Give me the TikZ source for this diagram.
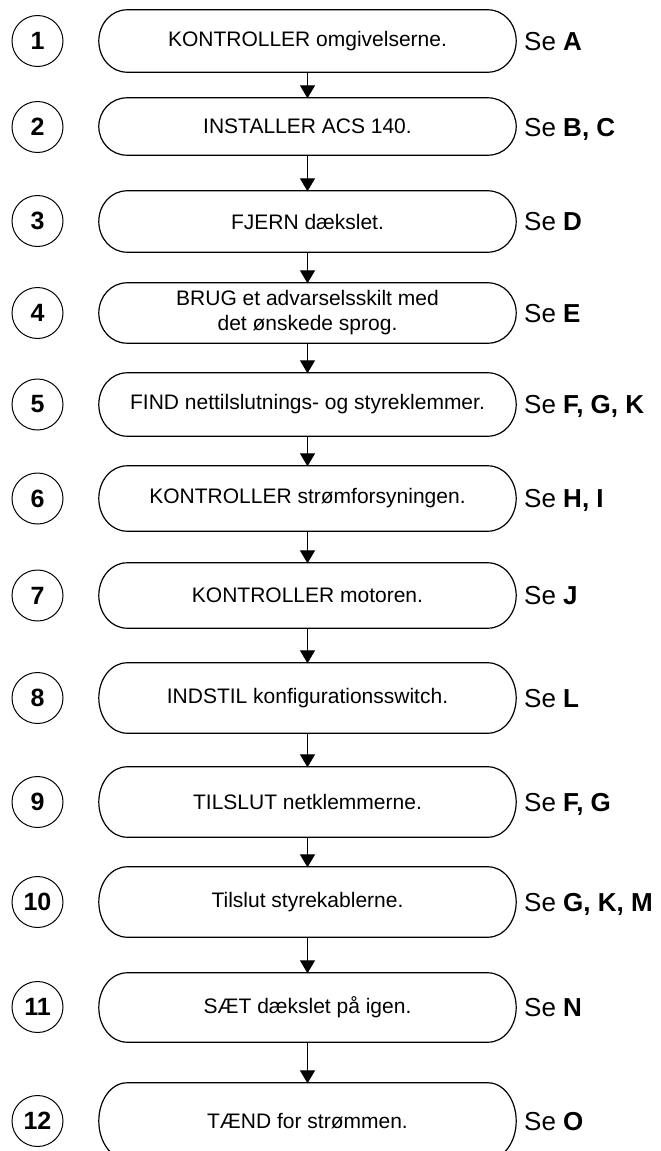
\documentclass[tikz,border=0pt]{standalone}
\usepackage{fontspec}
\setmainfont{Liberation Sans}
\usetikzlibrary{arrows.meta,calc}
\tikzset{
  boxline/.style={line width=1.2pt, line join=round},
  stepbox/.style={shape=rectangle, inner sep=0pt, minimum width=417pt, align=center,
    font=\fontsize{21}{25}\selectfont},
  num/.style={circle, draw, line width=1pt, minimum size=51pt, inner sep=0pt,
    font=\fontsize{25}{30}\selectfont\bfseries},
  seelabel/.style={anchor=base west, inner sep=0pt, font=\fontsize{26}{30}\selectfont},
  arr/.style={line width=1.3pt, -{Triangle[width=15pt,length=13pt]}, shorten >=-0.5pt}
}
\newcommand\pill[1]{%
 \draw[boxline] ([xshift=28pt]#1.north west) -- ([xshift=-28pt]#1.north east)
 .. controls ([xshift=-12.5pt]#1.north east) and ($(#1.east)!0.552!(#1.north east)$) .. (#1.east)
 .. controls ($(#1.east)!0.552!(#1.south east)$) and ([xshift=-12.5pt]#1.south east) .. ([xshift=-28pt]#1.south east)
 -- ([xshift=28pt]#1.south west)
 .. controls ([xshift=12.5pt]#1.south west) and ($(#1.west)!0.552!(#1.south west)$) .. (#1.west)
 .. controls ($(#1.west)!0.552!(#1.north west)$) and ([xshift=12.5pt]#1.north west) .. cycle;}
\begin{document}
\begin{tikzpicture}[x=1pt,y=-1pt]
\useasboundingbox (0,0) rectangle (661,1151);
\clip (0,0) rectangle (661,1151);
% boxes
\node[stepbox, minimum height=62pt] (b1) at (307.5,41) {KONTROLLER omgivelserne.};
\node[stepbox, minimum height=57pt] (b2) at (307.5,126.5) {INSTALLER ACS 140.};
\node[stepbox, minimum height=61pt] (b3) at (307.5,221.5) {FJERN dækslet.};
\node[stepbox, minimum height=60pt] (b4) at (307.5,313) {BRUG et advarselsskilt med\\det ønskede sprog.};
\node[stepbox, minimum height=63pt] (b5) at (307.5,404.5) {FIND nettilslutnings- og styreklemmer.};
\node[stepbox, minimum height=65pt] (b6) at (307.5,498.5) {KONTROLLER strømforsyningen.};
\node[stepbox, minimum height=65pt] (b7) at (307.5,595.5) {KONTROLLER motoren.};
\node[stepbox, minimum height=70pt] (b8) at (307.5,698) {INDSTIL konfigurationsswitch.};
\node[stepbox, minimum height=70pt] (b9) at (307.5,802) {TILSLUT netklemmerne.};
\node[stepbox, minimum height=70pt] (b10) at (307.5,902) {Tilslut styrekablerne.};
\node[stepbox, minimum height=69pt] (b11) at (307.5,1007.5) {SÆT dækslet på igen.};
\node[stepbox, minimum height=76pt] (b12) at (307.5,1121) {TÆND for strømmen.};
\foreach \i in {1,...,12} {\pill{b\i}}
% numbers
\node[num] (n1) at (37.5,41) {1};
\node[num] (n2) at (37.5,127) {2};
\node[num] (n3) at (37.5,221) {3};
\node[num] (n4) at (37.5,313) {4};
\node[num] (n5) at (37.5,404.5) {5};
\node[num] (n6) at (37.5,498.5) {6};
\node[num] (n7) at (37.5,595.5) {7};
\node[num] (n8) at (37.5,698) {8};
\node[num] (n9) at (37.5,802) {9};
\node[num] (n10) at (37.5,902) {10};
\node[num] (n11) at (37.5,1007) {11};
\node[num] (n12) at (37.5,1121) {12};
% labels
\node[seelabel] (s1) at (524,50) {Se \textbf{A}};
\node[seelabel] (s2) at (524,136) {Se \textbf{B, C}};
\node[seelabel] (s3) at (524,230.5) {Se \textbf{D}};
\node[seelabel] (s4) at (524,322) {Se \textbf{E}};
\node[seelabel] (s5) at (524,413.5) {Se \textbf{F, G, K}};
\node[seelabel] (s6) at (524,507.5) {Se \textbf{H, I}};
\node[seelabel] (s7) at (524,604.5) {Se \textbf{J}};
\node[seelabel] (s8) at (524,707) {Se \textbf{L}};
\node[seelabel] (s9) at (524,811) {Se \textbf{F, G}};
\node[seelabel] (s10) at (524,911) {Se \textbf{G, K, M}};
\node[seelabel] (s11) at (524,1016.5) {Se \textbf{N}};
\node[seelabel] (s12) at (524,1130) {Se \textbf{O}};
% arrows
\foreach \a/\b in {1/2,2/3,3/4,4/5,5/6,6/7,7/8,8/9,9/10,10/11,11/12}
  \draw[arr] (b\a.south) -- (b\b.north);
\end{tikzpicture}
\end{document}
